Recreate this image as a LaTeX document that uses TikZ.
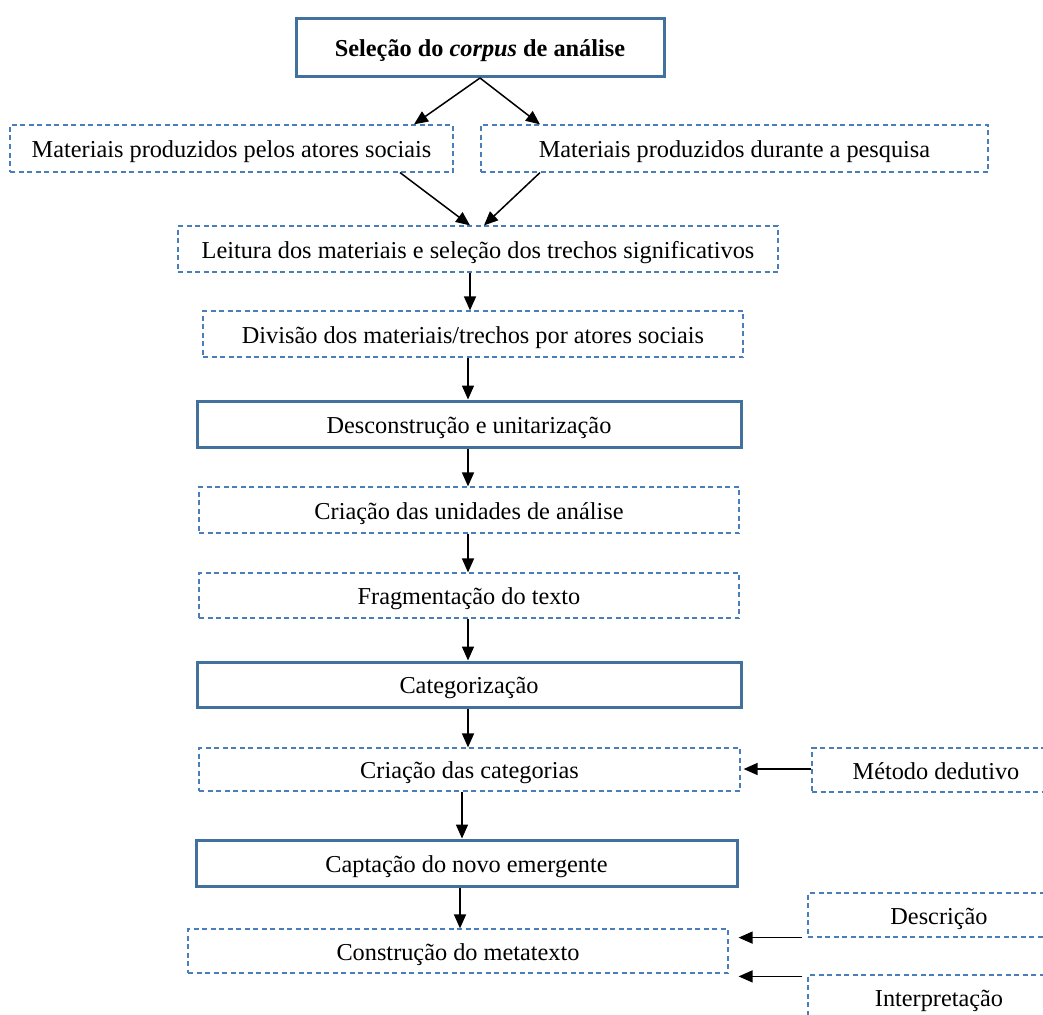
\documentclass[tikz,border=0pt]{standalone}
\usepackage{fontspec}
\setmainfont{Liberation Serif}
\usetikzlibrary{arrows.meta}
\definecolor{boxblue}{HTML}{41719C}
\definecolor{dashblue}{HTML}{4A7EBB}
\begin{document}
\begin{tikzpicture}[x=1pt,y=-1pt,
  every node/.style={font=\fontsize{24.3}{28}\selectfont, inner sep=0pt, text height=18pt, text depth=0pt},
  thickbox/.style={draw=boxblue, line width=3pt, fill=white},
  dashbox/.style={draw=dashblue, line width=1.2pt, dash pattern=on 5pt off 3.5pt, fill=white},
  arr/.style={draw=black, line width=1.5pt, -{Triangle[length=14pt,width=12pt]}}]
\useasboundingbox (0,0) rectangle (1043,1014);
\clip (0,0) rectangle (1043,1014);
\fill[white] (0,0) rectangle (1043,1014);

\node[thickbox, minimum width=368pt, minimum height=58pt] (top) at (480,47.5) {\textbf{Seleção do \textit{corpus} de análise}};
\node[dashbox, minimum width=443pt, minimum height=47pt] (b1) at (231.5,148.5) {Materiais produzidos pelos atores sociais};
\node[dashbox, minimum width=507pt, minimum height=47pt] (b2) at (734.5,148.5) {Materiais produzidos durante a pesquisa};
\node[dashbox, minimum width=600pt, minimum height=46pt] (leitura) at (478,249) {Leitura dos materiais e seleção dos trechos significativos};
\node[dashbox, minimum width=540pt, minimum height=46pt] (divisao) at (473,334) {Divisão dos materiais/trechos por atores sociais};
\node[thickbox, minimum width=544pt, minimum height=46pt] (descon) at (469,424) {Desconstrução e unitarização};
\node[dashbox, minimum width=540pt, minimum height=46pt] (unid) at (469,510) {Criação das unidades de análise};
\node[dashbox, minimum width=540pt, minimum height=45pt] (frag) at (469,595.5) {Fragmentação do texto};
\node[thickbox, minimum width=544pt, minimum height=45pt] (categ) at (469,684.5) {Categorização};
\node[dashbox, minimum width=541pt, minimum height=43pt] (criacat) at (469.5,769.5) {Criação das categorias};
\node[dashbox, minimum width=248pt, minimum height=44pt] (metodo) at (936,770) {Método dedutivo};
\node[thickbox, minimum width=541pt, minimum height=46pt] (capt) at (466.5,863) {Captação do novo emergente};
\node[dashbox, minimum width=540pt, minimum height=44pt] (constr) at (458,951) {Construção do metatexto};
\node[dashbox, minimum width=262pt, minimum height=44pt] (descr) at (939,915) {Descrição};
\node[dashbox, minimum width=262pt, minimum height=44pt] (interp) at (939,997) {Interpretação};

% arrows
\draw[arr] (top.south) -- ([xshift=182.5pt]b1.north);
\draw[arr] (top.south) -- ([xshift=-194.5pt]b2.north);
\draw[arr] ([xshift=168.5pt]b1.south) -- ([xshift=-8pt]leitura.north);
\draw[arr] ([xshift=-194.5pt]b2.south) -- ([xshift=6pt]leitura.north);
\draw[arr] ([xshift=-8pt]leitura.south) -- ([xshift=-8pt]leitura.south |- divisao.north);
\draw[arr] ([xshift=-5pt]divisao.south) -- ([xshift=-5pt]divisao.south |- descon.north);
\draw[arr] ([xshift=-1pt]descon.south) -- ([xshift=-1pt]descon.south |- unid.north);
\draw[arr] ([xshift=-1pt]unid.south) -- ([xshift=-1pt]unid.south |- frag.north);
\draw[arr] ([xshift=-1pt]frag.south) -- ([xshift=-1pt]frag.south |- categ.north);
\draw[arr] ([xshift=-1pt]categ.south) -- ([xshift=-1pt]categ.south |- criacat.north);
\draw[arr] ([xshift=-7.5pt]criacat.south) -- ([xshift=-7.5pt]criacat.south |- capt.north);
\draw[arr] ([xshift=-6.5pt]capt.south) -- ([xshift=-6.5pt]capt.south |- constr.north);
\draw[arr] ([yshift=1pt]metodo.west) -- ([yshift=1pt,xshift=3pt]metodo.west -| criacat.east);
\draw[arr] ([xshift=-5pt]descr.south west) -- ([xshift=10pt]descr.south west -| constr.east);
\draw[arr] ([xshift=-5pt,yshift=-2pt]interp.north west) -- ([xshift=10pt,yshift=-2pt]interp.north west -| constr.east);
\end{tikzpicture}
\end{document}
